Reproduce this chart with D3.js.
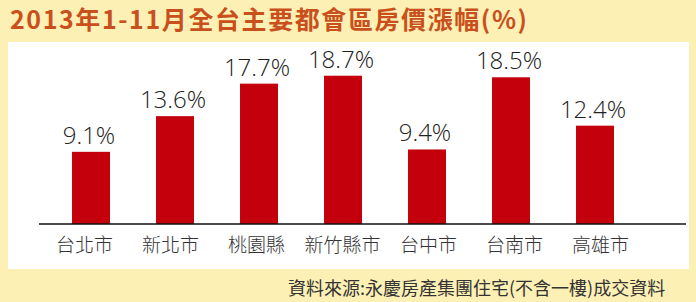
<!DOCTYPE html>
<html><head><meta charset="utf-8">
<script src="https://cdn.jsdelivr.net/npm/d3@7"></script>
<style>
html,body{margin:0;padding:0;background:#fdf0b5;}
svg{display:block;}
</style></head>
<body>
<script>
const categories = ["台北市","新北市","桃園縣","新竹縣市","台中市","台南市","高雄市"];
const values = [9.1, 13.6, 17.7, 18.7, 9.4, 18.5, 12.4];
const valueLabels = ["9.1%","13.6%","17.7%","18.7%","9.4%","18.5%","12.4%"];
const titleText = "2013年1-11月全台主要都會區房價漲幅(%)";
const sourceText = "資料來源:永慶房產集團住宅(不含一樓)成交資料";

const W = 696, H = 302;
const svg = d3.select("body").append("svg").attr("width", W).attr("height", H);

svg.append("rect").attr("x",0).attr("y",0).attr("width",W).attr("height",H).attr("fill","#fdf0b5");
svg.append("rect").attr("x",8).attr("y",42).attr("width",681).attr("height",227).attr("fill","#ffffff");

svg.append("text").attr("x",10).attr("y",29)
  .attr("font-family","'Noto Sans CJK TC','Noto Sans CJK SC',sans-serif")
  .attr("font-weight","bold").attr("font-size",25)
  .attr("textLength",517).attr("lengthAdjust","spacing")
  .attr("fill","#c9501c").text(titleText);

const baseY = 224;
const x = d3.scaleBand().domain(categories).range([49, 637]).paddingInner(0.548).paddingOuter(0.274);
const y = d3.scaleLinear().domain([0, 20]).range([baseY, baseY - 7.93*20]);
const xl = d3.scalePoint().domain(categories).range([84, 600]);

svg.selectAll("rect.bar").data(values).join("rect").attr("class","bar")
  .attr("x",(d,i)=>x(categories[i])).attr("width",x.bandwidth())
  .attr("y",d=>y(d)).attr("height",d=>baseY - y(d)).attr("fill","#c4000c");

svg.selectAll("text.val").data(values).join("text").attr("class","val")
  .attr("x",(d,i)=>x(categories[i]) + x.bandwidth()/2 - 2)
  .attr("y",d=>y(d) - 8)
  .attr("text-anchor","middle")
  .attr("font-family","'Open Sans','Liberation Sans',sans-serif")
  .attr("font-weight",300).attr("font-size",24).attr("fill","#222")
  .text((d,i)=>valueLabels[i]);

svg.append("line").attr("x1",39).attr("x2",686).attr("y1",baseY).attr("y2",baseY)
  .attr("stroke","#111").attr("stroke-width",1.6);

const ax = svg.append("g").attr("transform",`translate(0,${baseY})`)
  .call(d3.axisBottom(xl).tickSize(0));
ax.select(".domain").remove();
ax.selectAll("text").attr("y",28).attr("dy",0)
  .attr("font-family","'Noto Sans CJK TC','Noto Sans CJK SC',sans-serif")
  .attr("font-weight",300)
  .attr("font-size",19).attr("fill","#333");

svg.append("text").attr("x",288).attr("y",295)
  .attr("font-family","'Noto Sans CJK TC','Noto Sans CJK SC',sans-serif")
  .attr("font-size",18).attr("fill","#333").text(sourceText);
</script>
</body></html>
